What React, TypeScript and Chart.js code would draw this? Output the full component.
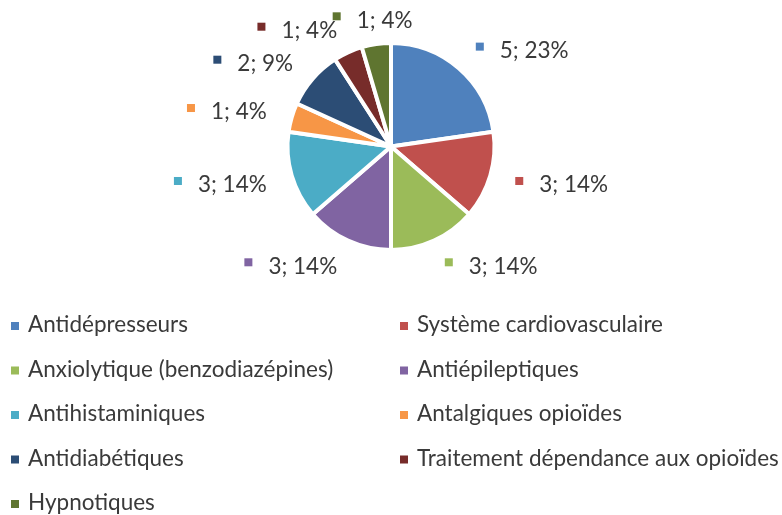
import React, { useEffect, useRef } from "react";
import { Chart, registerables } from "chart.js";

Chart.register(...registerables);

const categories = [
  "Antidépresseurs",
  "Système cardiovasculaire",
  "Anxiolytique (benzodiazépines)",
  "Antiépileptiques",
  "Antihistaminiques",
  "Antalgiques opioïdes",
  "Antidiabétiques",
  "Traitement dépendance aux opioïdes",
  "Hypnotiques",
];
const counts = [5, 3, 3, 3, 3, 1, 2, 1, 1];
const percentLabels = ["23%", "14%", "14%", "14%", "14%", "4%", "9%", "4%", "4%"];
const colors = [
  "#4F81BD",
  "#C0504D",
  "#9BBB59",
  "#8064A2",
  "#4BACC6",
  "#F79646",
  "#2C4D75",
  "#772C2A",
  "#5F7530",
];

const FONT = "22.5px Lato";
const TEXT_COLOR = "#3A3A3A";

const outsideLabels = {
  id: "outsideLabels",
  afterDatasetsDraw(chart: any) {
    const ctx = chart.ctx;
    const meta = chart.getDatasetMeta(0);
    ctx.save();
    ctx.font = FONT;
    ctx.textBaseline = "middle";
    meta.data.forEach((arc: any, i: number) => {
      const p = arc.getProps(["x", "y", "startAngle", "endAngle", "outerRadius"], true);
      const mid = (p.startAngle + p.endAngle) / 2;
      const R = p.outerRadius + 26;
      const px = p.x + Math.cos(mid) * R;
      const py = p.y + Math.sin(mid) * R;
      const text = `${counts[i]}; ${percentLabels[i]}`;
      const tw = ctx.measureText(text).width;
      const ms = 8;
      const gap = 16;
      const blockW = ms + gap + tw;
      let left: number;
      const c = Math.cos(mid);
      if (Math.abs(c) < 0.3) left = px - blockW / 2;
      else if (c > 0) left = px;
      else left = px - blockW;
      ctx.fillStyle = colors[i];
      ctx.fillRect(left, py - 6, ms, ms);
      ctx.fillStyle = TEXT_COLOR;
      ctx.textAlign = "left";
      ctx.fillText(text, left + ms + gap, py + 2);
    });
    ctx.restore();
  },
};

const customLegend = {
  id: "customLegend",
  afterDraw(chart: any) {
    const ctx = chart.ctx;
    const labels: string[] = chart.data.labels;
    const bg: string[] = chart.data.datasets[0].backgroundColor;
    const colX = [11, 400];
    const y0 = 324;
    const dy = 44.5;
    ctx.save();
    ctx.font = FONT;
    ctx.textBaseline = "middle";
    ctx.textAlign = "left";
    labels.forEach((lab, i) => {
      const col = i % 2;
      const row = Math.floor(i / 2);
      const x = colX[col];
      const y = y0 + row * dy;
      ctx.fillStyle = bg[i];
      ctx.fillRect(x, y - 2, 8, 8);
      ctx.fillStyle = TEXT_COLOR;
      ctx.fillText(lab, x + 17, y + 1);
    });
    ctx.restore();
  },
};

export default function App() {
  const ref = useRef<HTMLCanvasElement>(null);
  useEffect(() => {
    if (!ref.current) return;
    const chart = new Chart(ref.current, {
      type: "pie",
      data: {
        labels: categories,
        datasets: [
          {
            data: counts,
            backgroundColor: colors,
            borderColor: "#FFFFFF",
            borderWidth: 4,
          },
        ],
      },
      options: {
        animation: false,
        responsive: false,
        maintainAspectRatio: false,
        layout: { padding: { top: 41, bottom: 263, left: 0, right: 0 } },
        plugins: {
          legend: { display: false },
          tooltip: { enabled: false },
        },
      },
      plugins: [outsideLabels, customLegend],
    });
    return () => chart.destroy();
  }, []);
  return (
    <div style={{ position: "fixed", left: 0, top: 0, width: 782, height: 515, background: "#fff" }}>
      <canvas ref={ref} width={782} height={515} style={{ width: 782, height: 515 }} />
    </div>
  );
}
